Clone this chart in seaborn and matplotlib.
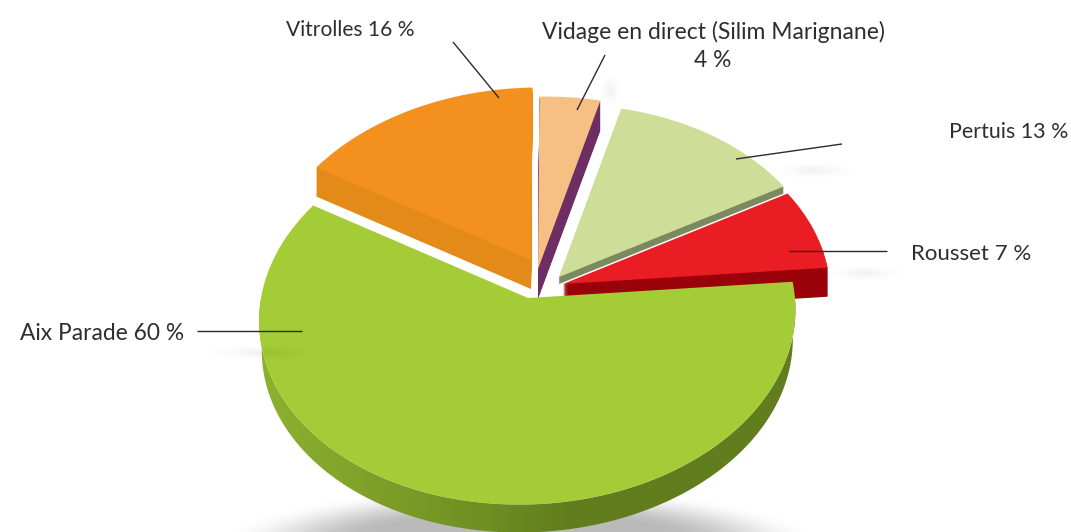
import numpy as np
import matplotlib
matplotlib.use("Agg")
import matplotlib.pyplot as plt
import seaborn as sns
from matplotlib.patches import Wedge, Polygon
from matplotlib.transforms import Transform, Affine2D
from matplotlib.colors import LinearSegmentedColormap

# ---- data ----
names = ["Aix Parade", "Rousset", "Pertuis", "Vidage en direct (Silim Marignane)", "Vitrolles"]
values = [60, 7, 13, 4, 16]

# ---- style ----
top_colors = sns.color_palette(["#A3CC36", "#EA1C24", "#CEDE98", "#F6C084", "#F3901E"])
side_colors = ["#617D1D", "#9A0209", "#7A8A5E", "#6F2E63", "#E38A18"]
apex = [(528, 298), (563, 284), (559, 277), (538, 269), (531, 260)]
depth = [0, 29, 7, 30, 29]
draw_order = [4, 3, 2, 1, 0]

sns.set_theme(style="white")
plt.rcParams["font.family"] = ["Lato", "DejaVu Sans"]

fig = plt.figure(figsize=(10.71, 5.32), dpi=100)
ax = fig.add_axes([0, 0, 1, 1])


class Perspective(Transform):
    input_dims = 2
    output_dims = 2
    is_separable = False
    has_inverse = False

    def __init__(self, R=267.0, S=188.0, k=0.09, shear=8.0):
        super().__init__()
        self.R, self.S, self.k, self.shear = R, S, k, shear

    def transform_non_affine(self, values):
        values = np.asarray(values, dtype=float)
        u, v = values[:, 0], values[:, 1]
        w = 1 + self.k * v
        return np.column_stack([(self.R * u + self.shear * v) / w, -self.S * v / w])


persp = Perspective()

# angles come from the pie layout
base, *_ = ax.pie(values, startangle=149, counterclock=True, radius=1, center=(0, 0))
spans = [(w.theta1, w.theta2) for w in base]
for w in base:
    w.remove()

# ground shadow
xx, yy = np.meshgrid(np.arange(0, 1071), np.arange(440, 532))
d = np.sqrt(((xx - 520) / 305) ** 2 + ((yy - 548) / 62) ** 2)
shade = np.clip((1.0 - d) / 0.45, 0, 1)
shade = shade * shade * (3 - 2 * shade)
rgba = np.zeros(xx.shape + (4,))
rgba[..., :3] = 0.73
rgba[..., 3] = shade
ax.imshow(rgba, extent=(0, 1071, 532, 440), aspect="auto", zorder=1)

# exploded slices: side stack, then top
for rank, i in enumerate(draw_order):
    z = 10 + rank * 2
    t1, t2 = spans[i]
    ax_, ay_ = apex[i]
    if i != 0:
        for dz in range(depth[i], 0, -1):
            p = Wedge((0, 0), 1, t1, t2, facecolor=side_colors[i], edgecolor="none", zorder=z)
            p.set_transform(persp + Affine2D().translate(ax_, ay_ + dz) + ax.transData)
            p.set_clip_on(False)
            ax.add_patch(p)
    p = Wedge((0, 0), 1, t1, t2, facecolor=top_colors[i], edgecolor="none", zorder=z + 1)
    p.set_transform(persp + Affine2D().translate(ax_, ay_) + ax.transData)
    p.set_clip_on(False)
    ax.add_patch(p)

# main slice rim with a horizontal gradient
t1, t2 = spans[0]
theta = np.radians(np.linspace(t1, t2, 240))
ring = np.column_stack([np.cos(theta), np.sin(theta)])
upper = persp.transform_non_affine(ring) + np.array(apex[0])
lower = persp.transform_non_affine(ring) * np.array([0.99, 0.99]) + np.array(apex[0]) + np.array([0, 30])
rim = Polygon(np.vstack([upper, lower[::-1]]), closed=True, transform=ax.transData, facecolor="none", edgecolor="none")
ax.add_patch(rim)
cmap = LinearSegmentedColormap.from_list("rim", [(0, "#8DB22F"), (0.42, "#6F8E23"), (0.58, "#617D1D"), (1, "#617D1D")])
im = ax.imshow(np.linspace(0, 1, 256)[None, :], cmap=cmap, extent=(259, 800, 540, 300), aspect="auto", zorder=18)
im.set_clip_path(rim)

# faint blurred label ghosts
gx, gy = np.meshgrid(np.arange(0, 1071), np.arange(0, 440))
ghost = np.zeros(gx.shape)
for cx, cy, sx, sy in [(262, 352, 34, 5), (815, 170, 26, 5), (865, 273, 24, 5), (610, 90, 6, 10)]:
    ghost += np.exp(-(((gx - cx) / sx) ** 2 + ((gy - cy) / sy) ** 2))
grgba = np.zeros(gx.shape + (4,))
grgba[..., 3] = np.clip(ghost, 0, 1) * 0.05
ax.imshow(grgba, extent=(0, 1071, 440, 0), aspect="auto", zorder=25)

# leader lines
leaders = [
    ((197, 302), (331, 331)),
    ((887, 789), (251, 251)),
    ((842, 736), (144, 159)),
    ((605, 577), (55, 110)),
    ((453, 499), (42, 98)),
]
for xs, ys in leaders:
    ax.plot(xs, ys, color="#2b2b2b", lw=1.0, zorder=30, solid_capstyle="butt")

# labels
tc = "#2e2e2e"
ax.text(20, 333.5, f"{names[0]} {values[0]} %", ha="left", va="center", fontsize=16.4, color=tc, zorder=31)
ax.text(911, 253.5, f"{names[1]} {values[1]} %", ha="left", va="center", fontsize=16.0, color=tc, zorder=31)
ax.text(1068, 131.5, f"{names[2]} {values[2]} %", ha="right", va="center", fontsize=15.4, color=tc, zorder=31)
ax.text(713, 31.5, names[3], ha="center", va="center", fontsize=16.5, color=tc, zorder=31)
ax.text(713, 60.5, f"{values[3]} %", ha="center", va="center", fontsize=16.4, color=tc, zorder=31)
ax.text(286, 29.5, f"{names[4]} {values[4]} %", ha="left", va="center", fontsize=15.1, color=tc, zorder=31)

ax.set_aspect("auto")
ax.set_xlim(0, 1071)
ax.set_ylim(532, 0)
ax.axis("off")
fig.savefig("out.png", dpi=100, facecolor="white")
